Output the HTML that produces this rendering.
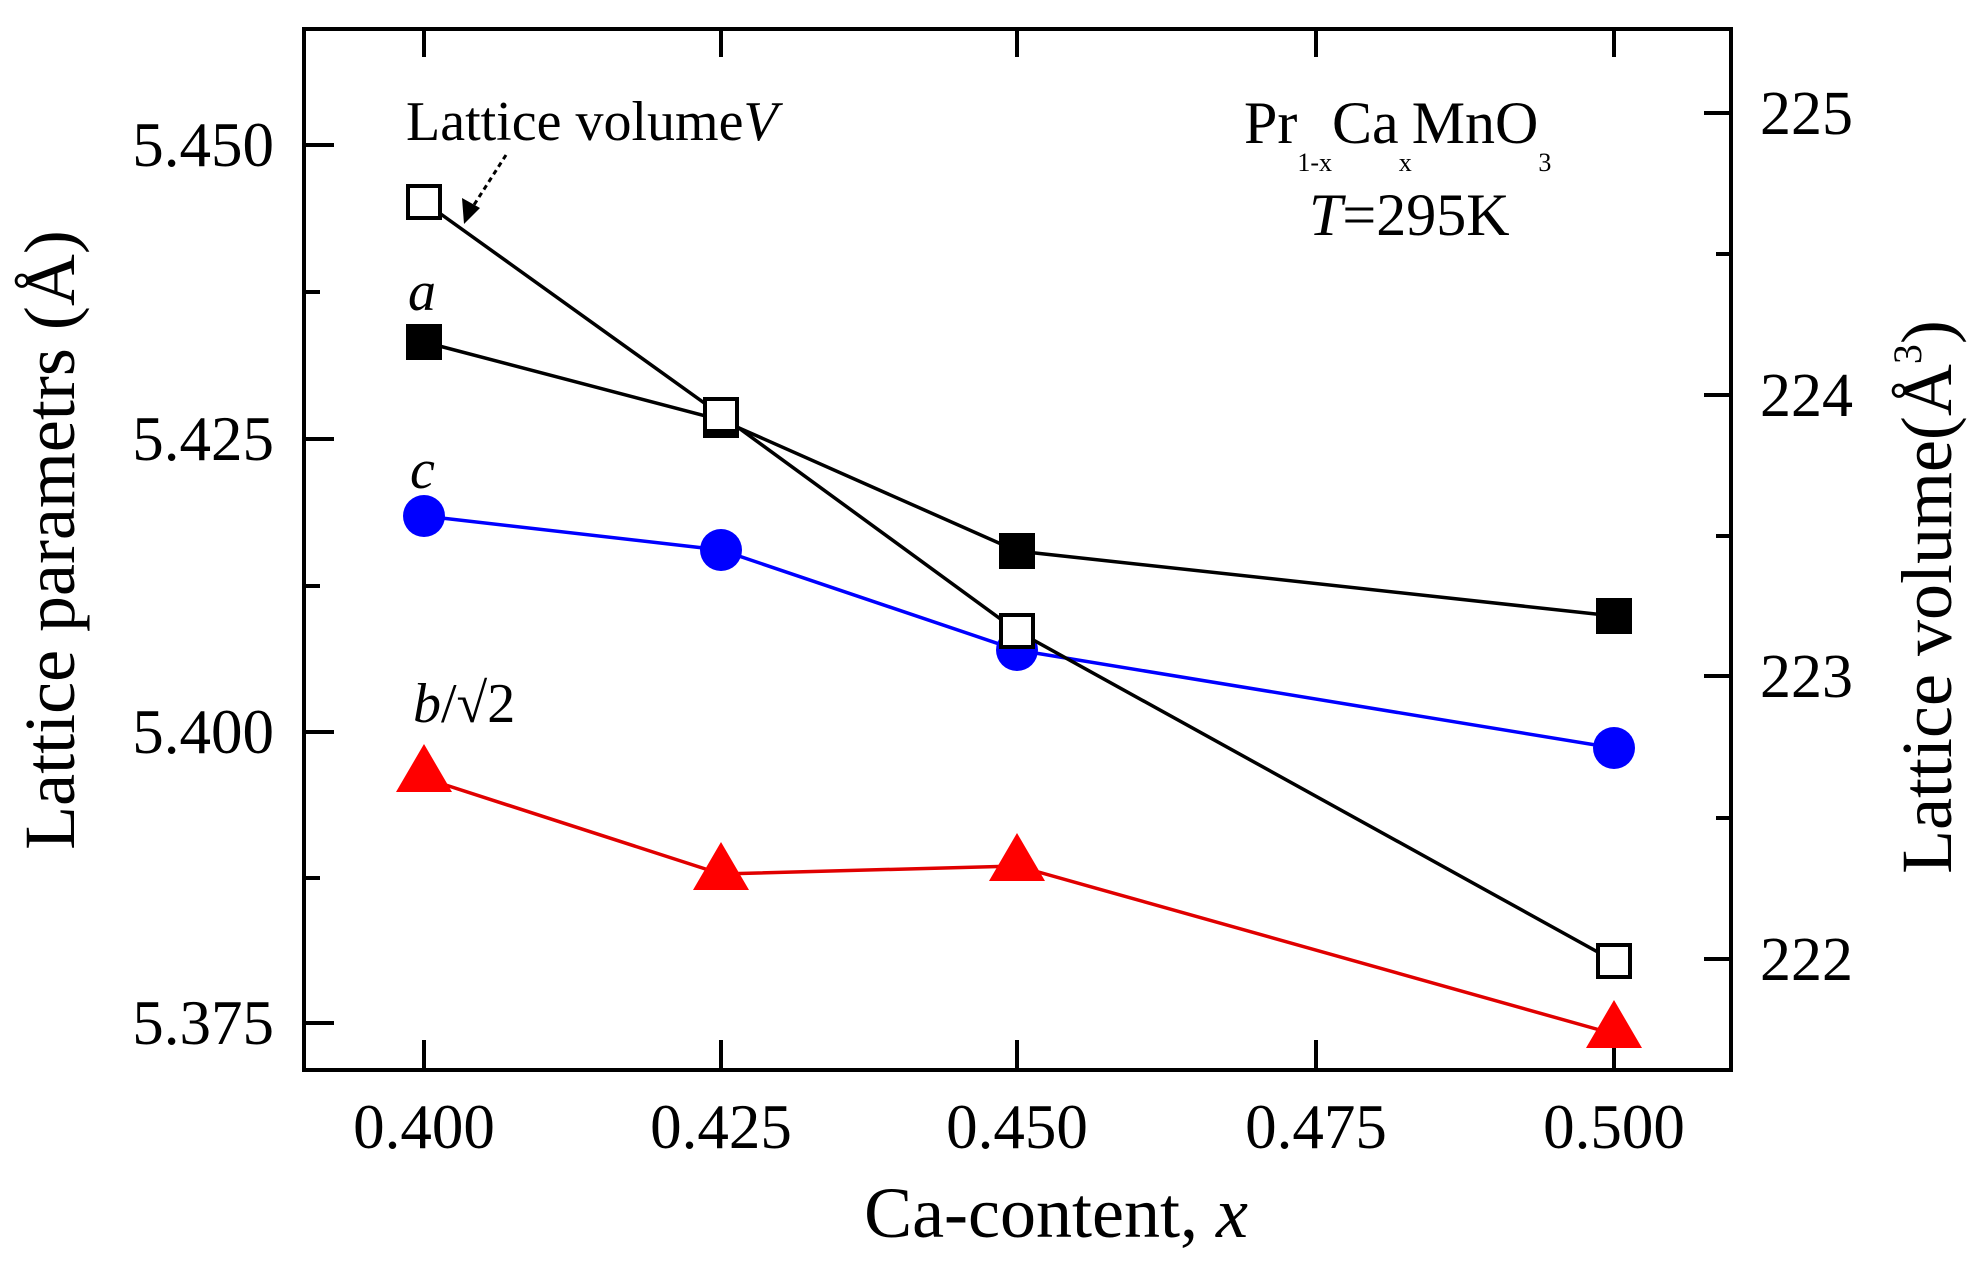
<!DOCTYPE html>
<html><head><meta charset="utf-8"><style>
html,body{margin:0;padding:0;background:#fff;}
svg{display:block;}
text{font-family:"Liberation Serif",serif;fill:#000;}
</style></head><body>
<svg width="1978" height="1271" viewBox="0 0 1978 1271" xmlns="http://www.w3.org/2000/svg">
<rect width="1978" height="1271" fill="#fff"/>
<rect x="304" y="29" width="1427" height="1041" fill="none" stroke="#000" stroke-width="4"/>
<g stroke="#000" stroke-width="4">
<line x1="304" y1="145" x2="334" y2="145"/>
<line x1="304" y1="292" x2="320" y2="292"/>
<line x1="304" y1="439" x2="334" y2="439"/>
<line x1="304" y1="586" x2="320" y2="586"/>
<line x1="304" y1="732" x2="334" y2="732"/>
<line x1="304" y1="878" x2="320" y2="878"/>
<line x1="304" y1="1023" x2="334" y2="1023"/>
<line x1="1704" y1="113" x2="1731" y2="113"/>
<line x1="1716" y1="254" x2="1731" y2="254"/>
<line x1="1704" y1="395" x2="1731" y2="395"/>
<line x1="1716" y1="536" x2="1731" y2="536"/>
<line x1="1704" y1="676" x2="1731" y2="676"/>
<line x1="1716" y1="818" x2="1731" y2="818"/>
<line x1="1704" y1="959" x2="1731" y2="959"/>
<line x1="424" y1="29" x2="424" y2="57"/>
<line x1="721" y1="29" x2="721" y2="57"/>
<line x1="1017" y1="29" x2="1017" y2="57"/>
<line x1="1316" y1="29" x2="1316" y2="57"/>
<line x1="1614" y1="29" x2="1614" y2="57"/>
<line x1="424" y1="1040" x2="424" y2="1070"/>
<line x1="721" y1="1040" x2="721" y2="1070"/>
<line x1="1017" y1="1040" x2="1017" y2="1070"/>
<line x1="1316" y1="1040" x2="1316" y2="1070"/>
<line x1="1614" y1="1040" x2="1614" y2="1070"/>
</g>
<g font-size="63" text-anchor="end">
<text x="274" y="166">5.450</text>
<text x="274" y="460">5.425</text>
<text x="274" y="753">5.400</text>
<text x="274" y="1044">5.375</text>
</g>
<g font-size="62">
<text x="1760" y="134">225</text>
<text x="1760" y="416">224</text>
<text x="1760" y="697">223</text>
<text x="1760" y="980">222</text>
</g>
<g font-size="63" text-anchor="middle">
<text x="424" y="1148">0.400</text>
<text x="721" y="1148">0.425</text>
<text x="1017" y="1148">0.450</text>
<text x="1316" y="1148">0.475</text>
<text x="1614" y="1148">0.500</text>
</g>
<text x="1056" y="1237" font-size="72" text-anchor="middle">Ca-content, <tspan font-style="italic">x</tspan></text>
<text transform="translate(74,540) rotate(-90)" font-size="72" text-anchor="middle">Lattice parametrs (Å)</text>
<text transform="translate(1951,597) rotate(-90)" font-size="72" text-anchor="middle">Lattice volume(Å<tspan font-size="40" dy="-30">3</tspan><tspan dy="30">)</tspan></text>
<text x="406" y="140" font-size="56">Lattice volume<tspan font-style="italic">V</tspan></text>
<line x1="506" y1="155" x2="472" y2="208" stroke="#000" stroke-width="3" stroke-dasharray="5,4"/>
<polygon points="464,224 462,198 480,208" fill="#000"/>
<text x="408" y="310" font-size="56" font-style="italic">a</text>
<text x="410" y="488" font-size="56" font-style="italic">c</text>
<text x="413" y="722" font-size="56"><tspan font-style="italic">b</tspan>/√2</text>
<text x="1244" y="143" font-size="60">Pr<tspan font-size="26" dy="28">1-x</tspan><tspan dy="-28">Ca</tspan><tspan font-size="26" dy="28">x</tspan><tspan dy="-28">MnO</tspan><tspan font-size="26" dy="28">3</tspan></text>
<text x="1309" y="235" font-size="60"><tspan font-style="italic">T</tspan>=295K</text>
<polyline points="424,778 721,874 1017,866 1614,1034" fill="none" stroke="#e00000" stroke-width="3.5"/>
<g fill="#ff0000">
<polygon points="424,744 452,792 396,792"/>
<polygon points="721,842 749,890 693,890"/>
<polygon points="1017,833 1045,881 989,881"/>
<polygon points="1614,1000 1642,1048 1586,1048"/>
</g>
<polyline points="424,516 721,550 1017,650 1614,748" fill="none" stroke="#0000ff" stroke-width="3.5"/>
<g fill="#0000ff">
<circle cx="424" cy="516" r="21"/>
<circle cx="721" cy="550" r="21"/>
<circle cx="1017" cy="650" r="21"/>
<circle cx="1614" cy="748" r="21"/>
</g>
<polyline points="424,342 721,420 1017,551 1614,616" fill="none" stroke="#000" stroke-width="3.5"/>
<g fill="#000">
<rect x="406" y="324" width="36" height="36"/>
<rect x="703" y="402" width="36" height="36"/>
<rect x="999" y="533" width="36" height="36"/>
<rect x="1596" y="598" width="36" height="36"/>
</g>
<polyline points="424,202 721,415 1017,631 1614,961" fill="none" stroke="#000" stroke-width="3.5"/>
<g fill="#fff" stroke="#000" stroke-width="4">
<rect x="408" y="186" width="32" height="32"/>
<rect x="705" y="399" width="32" height="32"/>
<rect x="1001" y="615" width="32" height="32"/>
<rect x="1598" y="945" width="32" height="32"/>
</g>
</svg>
</body></html>
